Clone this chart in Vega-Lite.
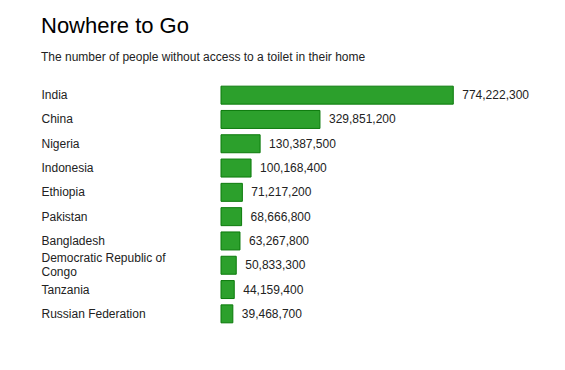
{
  "$schema": "https://vega.github.io/schema/vega-lite/v6.json",
  "autosize": "none",
  "width": 300,
  "height": 243,
  "padding": {"left": 221, "top": 83, "right": 44, "bottom": 44},
  "background": "white",
  "title": {
    "text": "Nowhere to Go",
    "subtitle": "The number of people without access to a toilet in their home",
    "anchor": "start",
    "offset": 19,
    "font": "Liberation Sans",
    "fontSize": 22,
    "fontWeight": "normal",
    "color": "#000000",
    "subtitleFont": "Liberation Sans",
    "subtitleFontSize": 12,
    "subtitleColor": "#222222",
    "subtitlePadding": 14
  },
  "data": {
    "values": [
      {"country": "India", "people": 774222300},
      {"country": "China", "people": 329851200},
      {"country": "Nigeria", "people": 130387500},
      {"country": "Indonesia", "people": 100168400},
      {"country": "Ethiopia", "people": 71217200},
      {"country": "Pakistan", "people": 68666800},
      {"country": "Bangladesh", "people": 63267800},
      {"country": "Democratic Republic of\n\u00a0Congo", "people": 50833300},
      {"country": "Tanzania", "people": 44159400},
      {"country": "Russian Federation", "people": 39468700}
    ]
  },
  "encoding": {
    "y": {
      "field": "country",
      "type": "nominal",
      "sort": null,
      "scale": {"paddingInner": 0.26, "paddingOuter": 0.13},
      "axis": {
        "title": null,
        "domain": false,
        "ticks": false,
        "labelAlign": "left",
        "labelPadding": 180,
        "labelFont": "Liberation Sans",
        "labelFontSize": 12,
        "labelColor": "#222222",
        "labelLineHeight": 14,
        "labelExpr": "split(datum.label, '\\n')",
        "labelOffset": {"condition": {"test": "indexof(datum.value, '\\n') >= 0", "value": -7}, "value": 0},
        "labelLimit": 200
      }
    },
    "x": {
      "field": "people",
      "type": "quantitative",
      "scale": {"domain": [0, 1000000000], "nice": false},
      "axis": null
    }
  },
  "layer": [
    {
      "mark": {"type": "bar", "fill": "#2ca02c", "stroke": "#0b7a0b", "strokeWidth": 1}
    },
    {
      "mark": {"type": "text", "align": "left", "dx": 9, "font": "Liberation Sans", "fontSize": 12, "color": "#222222"},
      "encoding": {
        "text": {"field": "people", "type": "quantitative", "format": ",d"}
      }
    }
  ],
  "config": {"view": {"stroke": null}}
}
